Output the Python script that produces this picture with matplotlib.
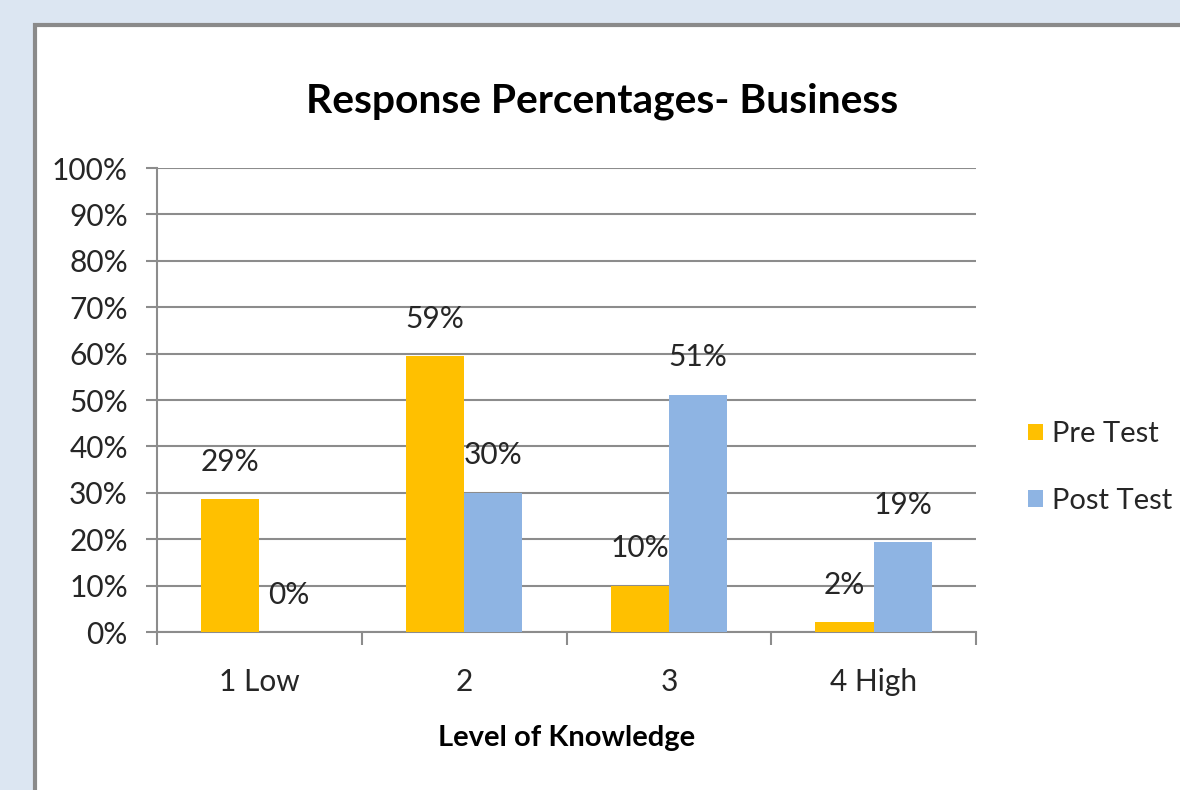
import matplotlib
matplotlib.use("Agg")
import matplotlib.pyplot as plt
import numpy as np
from matplotlib.patches import Rectangle, Patch

categories = ["1 Low", "2", "3", "4 High"]
pre_test = [28.6, 59.4, 10.0, 2.1]
post_test = [0.0, 30.0, 51.1, 19.3]
pre_labels = ["29%", "59%", "10%", "2%"]
post_labels = ["0%", "30%", "51%", "19%"]
series_names = ["Pre Test", "Post Test"]
yticks = list(range(0, 101, 10))
ytick_labels = [f"{v}%" for v in yticks]

W, H = 1180, 790
plt.rcParams['font.family'] = ['Lato', 'DejaVu Sans']
fig = plt.figure(figsize=(W / 100, H / 100), dpi=100)
fig.patch.set_facecolor("#dce6f2")

# chart frame
frame = Rectangle((35 / W, -0.1), 1.2, (H - 25) / H + 0.1, transform=fig.transFigure,
                  facecolor="white", edgecolor="#8a8a8a", linewidth=3, zorder=-10)
fig.add_artist(frame)

ax = fig.add_axes([157 / W, 158 / H, 819 / W, 464 / H])
ax.set_facecolor("none")
ax.set_zorder(1)

grey = "#8c8c8c"
txt = "#262626"
fs = 21.5
x = np.arange(len(categories))
w = 0.285
b1 = ax.bar(x - w / 2, pre_test, w, color="#ffc000", label=series_names[0], zorder=3)
b2 = ax.bar(x + w / 2, post_test, w, color="#8eb4e3", label=series_names[1], zorder=3)

for bars, labs in ((b1, pre_labels), (b2, post_labels)):
    for r, lab in zip(bars, labs):
        ax.annotate(lab, (r.get_x() + r.get_width() / 2, r.get_height()),
                    xytext=(0, 27), textcoords="offset points",
                    ha="center", va="center", fontsize=fs, color=txt, zorder=4)

ax.set_xlim(-0.5, len(categories) - 0.5)
ax.set_ylim(0, 100)
ax.set_yticks(yticks)
ax.set_yticklabels(ytick_labels, fontsize=fs, color=txt)
ax.yaxis.grid(True, color=grey, linewidth=1.5, zorder=0)
ax.set_axisbelow(True)
ax.tick_params(axis="y", length=8, width=1.5, color=grey, pad=13)

ax.set_xticks(x)
ax.set_xticklabels(categories, fontsize=fs, color=txt)
ax.set_xticks(np.arange(-0.5, len(categories), 1.0), minor=True)
ax.tick_params(axis="x", which="major", length=0, pad=26)
ax.tick_params(axis="x", which="minor", length=9, width=1.5, color=grey)

for s in ("top", "right"):
    ax.spines[s].set_visible(False)
for s in ("left", "bottom"):
    ax.spines[s].set_color(grey)
    ax.spines[s].set_linewidth(1.5)

ax.set_xlabel("Level of Knowledge", fontsize=21, fontweight="bold", color="black", labelpad=21)

fig.text(602 / W, 1 - 101 / H, "Response Percentages- Business", ha="center", va="center",
         fontsize=29.3, fontweight="bold", color="black")

handles = [Patch(facecolor="#ffc000"), Patch(facecolor="#8eb4e3")]
fig.legend(handles, series_names, loc="upper left", bbox_to_anchor=(1008 / W, 1 - 401 / H),
           frameon=False, fontsize=21, handlelength=0.51, handleheight=0.51,
           handletextpad=0.31, labelspacing=1.39, labelcolor=txt, borderpad=0.2)

fig.savefig("out.png", dpi=100, facecolor=fig.get_facecolor())
